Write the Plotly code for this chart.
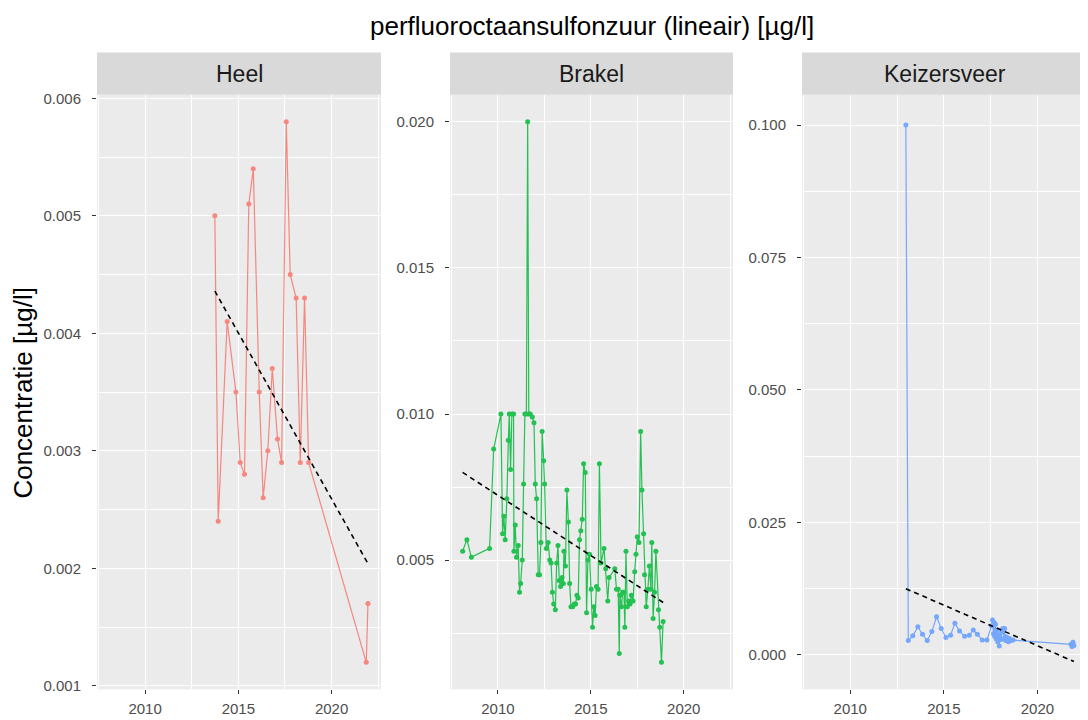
import plotly.graph_objects as go

# Heel
heel_jaar = [2013.74, 2013.92, 2014.40, 2014.87, 2015.10, 2015.33, 2015.56, 2015.80,
             2016.12, 2016.33, 2016.58, 2016.82, 2017.10, 2017.32, 2017.57, 2017.78,
             2018.10, 2018.32, 2018.55, 2018.77, 2021.86, 2021.95]
heel_conc = [0.0050, 0.0024, 0.0041, 0.0035, 0.0029, 0.0028, 0.0051, 0.0054,
             0.0035, 0.0026, 0.0030, 0.0037, 0.0031, 0.0029, 0.0058, 0.0045,
             0.0043, 0.0029, 0.0043, 0.0029, 0.0012, 0.0017]
heel_trend_jaar = [2013.74, 2021.95]
heel_trend_conc = [0.00436, 0.00204]

# Brakel
brakel_jaar = [2008.10, 2008.33, 2008.57, 2009.55, 2009.77, 2010.16, 2010.25, 2010.32,
               2010.39, 2010.48, 2010.56, 2010.61, 2010.68, 2010.75, 2010.84, 2010.86,
               2010.93, 2011.00, 2011.09, 2011.16, 2011.22, 2011.31, 2011.38, 2011.45,
               2011.53, 2011.60, 2011.66, 2011.74, 2011.85, 2011.94, 2012.01, 2012.08,
               2012.17, 2012.24, 2012.31, 2012.38, 2012.46, 2012.51, 2012.60, 2012.70,
               2012.79, 2012.86, 2012.93, 2013.00, 2013.09, 2013.16, 2013.23, 2013.30,
               2013.37, 2013.45, 2013.52, 2013.55, 2013.63, 2013.71, 2013.79, 2013.86,
               2013.93, 2014.02, 2014.11, 2014.18, 2014.25, 2014.32, 2014.39, 2014.46,
               2014.54, 2014.61, 2014.70, 2014.77, 2014.84, 2014.93, 2015.02, 2015.09,
               2015.16, 2015.23, 2015.30, 2015.39, 2015.46, 2015.55, 2015.71, 2015.80,
               2015.91, 2015.98, 2016.29, 2016.38, 2016.47, 2016.53, 2016.56, 2016.65,
               2016.71, 2016.78, 2016.83, 2016.89, 2016.96, 2017.04, 2017.11, 2017.18,
               2017.27, 2017.36, 2017.43, 2017.50, 2017.59, 2017.68, 2017.75, 2017.84,
               2017.89, 2017.98, 2018.07, 2018.15, 2018.23, 2018.28, 2018.35, 2018.43,
               2018.50, 2018.64, 2018.71, 2018.80, 2018.89]
brakel_conc = [0.0053, 0.0057, 0.0051, 0.0054, 0.0088, 0.0100, 0.0059, 0.0065,
               0.0057, 0.0071, 0.0091, 0.0100, 0.0081, 0.0100, 0.0100, 0.0053,
               0.0062, 0.0051, 0.0055, 0.0039, 0.0042, 0.0050, 0.0076, 0.0100,
               0.0100, 0.0200, 0.0100, 0.0100, 0.0099, 0.0097, 0.0076, 0.0071,
               0.0045, 0.0045, 0.0056, 0.0094, 0.0084, 0.0076, 0.0054, 0.0056,
               0.0050, 0.0049, 0.0039, 0.0035, 0.0033, 0.0049, 0.0055, 0.0043,
               0.0041, 0.0044, 0.0042, 0.0053, 0.0048, 0.0074, 0.0063, 0.0042,
               0.0034, 0.0034, 0.0035, 0.0035, 0.0038, 0.0037, 0.0057, 0.0060,
               0.0064, 0.0083, 0.0080, 0.0032, 0.0050, 0.0052, 0.0040, 0.0027,
               0.0034, 0.0031, 0.0041, 0.0040, 0.0083, 0.0049, 0.0054, 0.0047,
               0.0036, 0.0044, 0.0047, 0.0040, 0.0040, 0.0018, 0.0038, 0.0034,
               0.0039, 0.0039, 0.0027, 0.0053, 0.0034, 0.0036, 0.0035, 0.0038,
               0.0036, 0.0046, 0.0052, 0.0058, 0.0056, 0.0094, 0.0074, 0.0059,
               0.0045, 0.0034, 0.0040, 0.0048, 0.0040, 0.0056, 0.0030, 0.0039,
               0.0053, 0.0033, 0.0027, 0.0015, 0.0029]
brakel_trend_jaar = [2008.10, 2018.89]
brakel_trend_conc = [0.0080, 0.00355]

# Keizersveer
keiz_jaar = [2012.97, 2013.10, 2013.34, 2013.61, 2013.86, 2014.11, 2014.36, 2014.61,
             2014.86, 2015.11, 2015.36, 2015.59, 2015.84, 2016.11, 2016.36, 2016.57,
             2016.79, 2017.05, 2017.30, 2017.55, 2017.60, 2017.65, 2017.68, 2017.72,
             2017.76, 2017.80, 2017.84, 2017.88, 2017.92, 2017.96, 2018.00, 2018.05,
             2018.10, 2018.15, 2018.20, 2018.25, 2018.30, 2018.35, 2018.40, 2018.45,
             2018.50, 2018.60, 2018.70, 2021.80, 2021.85, 2021.90, 2021.95]
keiz_conc = [0.1000, 0.0027, 0.0036, 0.0053, 0.0039, 0.0027, 0.0044, 0.0072,
             0.0050, 0.0033, 0.0037, 0.0060, 0.0045, 0.0035, 0.0037, 0.0047,
             0.0039, 0.0028, 0.0028, 0.0055, 0.0066, 0.0040, 0.0061, 0.0035,
             0.0058, 0.0030, 0.0046, 0.0025, 0.0038, 0.0017, 0.0033, 0.0029,
             0.0044, 0.0050, 0.0030, 0.0050, 0.0027, 0.0034, 0.0029, 0.0025,
             0.0031, 0.0027, 0.0028, 0.0020, 0.0016, 0.0024, 0.0018]
keiz_trend_jaar = [2012.97, 2021.95]
keiz_trend_conc = [0.0125, -0.00124]

x_ticks = [2010, 2015, 2020]
x_minor = [2007.5, 2012.5, 2017.5, 2022.5]

# page body has an 8px margin, so the figure is a bit smaller and shifted
OFF = 8
W, H = 1088 - OFF, 720 - OFF
FONT = "Liberation Sans"


def px_x(v):
    return (v - OFF) / W


def px_y(v):
    return 1 - (v - OFF) / H


panels = [
    dict(name="Heel", x=heel_jaar, y=heel_conc, tx=heel_trend_jaar, ty=heel_trend_conc,
         color="#F8766D", px=(97, 381), yrange=[0.00097, 0.00603],
         yticks=[0.001, 0.002, 0.003, 0.004, 0.005, 0.006],
         ylabels=["0.001", "0.002", "0.003", "0.004", "0.005", "0.006"],
         yminor=[0.0015, 0.0025, 0.0035, 0.0045, 0.0055]),
    dict(name="Brakel", x=brakel_jaar, y=brakel_conc, tx=brakel_trend_jaar, ty=brakel_trend_conc,
         color="#00BA38", px=(450, 733), yrange=[0.000575, 0.020925],
         yticks=[0.005, 0.010, 0.015, 0.020],
         ylabels=["0.005", "0.010", "0.015", "0.020"],
         yminor=[0.0025, 0.0075, 0.0125, 0.0175]),
    dict(name="Keizersveer", x=keiz_jaar, y=keiz_conc, tx=keiz_trend_jaar, ty=keiz_trend_conc,
         color="#619CFF", px=(802, 1087), yrange=[-0.0065, 0.1057],
         yticks=[0.0, 0.025, 0.05, 0.075, 0.1],
         ylabels=["0.000", "0.025", "0.050", "0.075", "0.100"],
         yminor=[0.0125, 0.0375, 0.0625, 0.0875]),
]

top_px, bottom_px, strip_top_px = 91, 694, 48
y_dom = [px_y(bottom_px), px_y(top_px)]

fig = go.Figure()
layout = {}
shapes = []
annotations = []

for i, p in enumerate(panels):
    n = "" if i == 0 else str(i + 1)
    xa, ya = "x" + n, "y" + n

    fig.add_trace(go.Scatter(
        x=p["x"], y=p["y"], xaxis=xa, yaxis=ya, mode="lines+markers",
        line=dict(color=p["color"], width=1.2), marker=dict(color=p["color"], size=5),
        opacity=0.85, showlegend=False))
    fig.add_trace(go.Scatter(
        x=p["tx"], y=p["ty"], xaxis=xa, yaxis=ya, mode="lines",
        line=dict(color="black", width=1.6, dash="5px,4px"), showlegend=False))

    x_dom = [px_x(p["px"][0]), min(1.0, px_x(p["px"][1]))]
    layout["xaxis" + n] = dict(
        domain=x_dom, anchor=ya, range=[2007.42, 2022.65],
        tickvals=x_ticks, ticktext=[str(t) for t in x_ticks],
        showgrid=True, gridcolor="white", gridwidth=1.2,
        minor=dict(tickvals=x_minor, showgrid=True, gridcolor="white", gridwidth=0.6),
        ticks="outside", ticklen=4, tickwidth=1.2, tickcolor="#333333",
        ticklabelstandoff=2,
        tickfont=dict(family=FONT, size=15, color="#4D4D4D"),
        zeroline=False, showline=False)
    layout["yaxis" + n] = dict(
        domain=y_dom, anchor=xa, range=p["yrange"],
        tickvals=p["yticks"], ticktext=p["ylabels"],
        showgrid=True, gridcolor="white", gridwidth=1.2,
        minor=dict(tickvals=p["yminor"], showgrid=True, gridcolor="white", gridwidth=0.6),
        ticks="outside", ticklen=4, tickwidth=1.2, tickcolor="#333333",
        ticklabelstandoff=8,
        tickfont=dict(family=FONT, size=15, color="#4D4D4D"),
        zeroline=False, showline=False)

    # strip
    shapes.append(dict(type="rect", xref="paper", yref="paper",
                       x0=x_dom[0], x1=x_dom[1], y0=y_dom[1], y1=px_y(strip_top_px),
                       fillcolor="#D9D9D9", line=dict(width=0), layer="below"))
    annotations.append(dict(text=p["name"], xref="paper", yref="paper",
                            x=(x_dom[0] + x_dom[1]) / 2, y=px_y((strip_top_px + top_px) / 2),
                            showarrow=False, xanchor="center", yanchor="middle",
                            font=dict(family=FONT, size=23, color="#1A1A1A")))

annotations.append(dict(text="perfluoroctaansulfonzuur (lineair) [µg/l]", xref="paper", yref="paper",
                        x=px_x(592), y=px_y(21), showarrow=False, xanchor="center", yanchor="middle",
                        font=dict(family=FONT, size=26, color="black")))
annotations.append(dict(text="Concentratie [µg/l]", xref="paper", yref="paper",
                        x=px_x(23), y=px_y(393), showarrow=False, textangle=-90,
                        xanchor="center", yanchor="middle",
                        font=dict(family=FONT, size=26, color="black")))

fig.update_layout(
    width=W, height=H, margin=dict(l=0, r=0, t=0, b=0),
    paper_bgcolor="white", plot_bgcolor="#EBEBEB",
    shapes=shapes, annotations=annotations, **layout)

fig.write_html("out.html")
